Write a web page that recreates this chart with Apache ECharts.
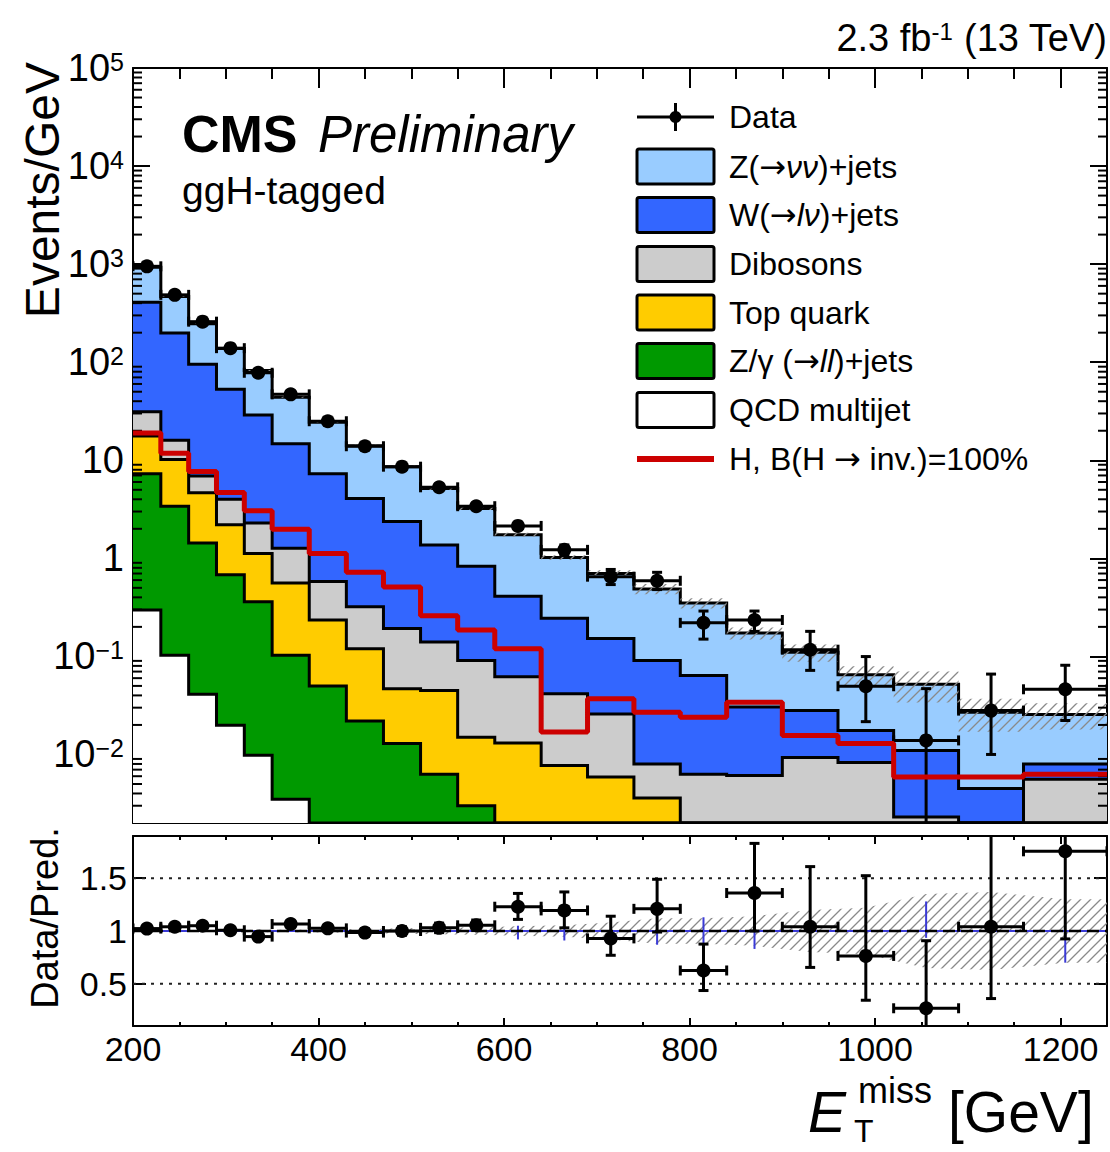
<!DOCTYPE html>
<html>
<head>
<meta charset="utf-8">
<title>CMS ggH-tagged MET</title>
<script src="https://cdn.jsdelivr.net/npm/echarts@6.0.0/dist/echarts.min.js"></script>
<style>
  html, body { margin: 0; padding: 0; background: #fff; }
  #main { width: 1110px; height: 1152px; }
</style>
</head>
<body>
<div id="main"></div>
<script>
// MET bins [GeV]
const binEdges = [200, 230, 260, 290, 320, 350, 390, 430, 470, 510, 550, 590, 640, 690, 740, 790, 840, 900, 960, 1020, 1090, 1160, 1250];

// background processes, events/GeV (stacked bottom -> top)
const qcdMultijet = [0.297, 0.103, 0.041, 0.0198, 0.0098, 0.0035, 0, 0, 0, 0, 0, 0, 0, 0, 0, 0, 0, 0, 0, 0, 0, 0];
const zllJets     = [7.0, 3.3, 1.39, 0.66, 0.35, 0.0995, 0.05, 0.022, 0.0129, 0.0063, 0.003, 0, 0, 0, 0, 0, 0, 0, 0, 0, 0, 0];
const topQuark    = [10.4, 6.8, 3.22, 1.52, 0.76, 0.457, 0.185, 0.098, 0.034, 0.0387, 0.012, 0.0131, 0.0077, 0.0059, 0.0036, 0, 0, 0, 0, 0, 0, 0];
const dibosons    = [13.6, 5.8, 2.25, 1.8, 1.17, 0.71, 0.345, 0.2, 0.146, 0.095, 0.076, 0.049, 0.034, 0.020, 0.0044, 0.0063, 0.0061, 0.0093, 0.0083, 0.0023, 0.001, 0.0056];
const wlnJets     = [378, 183, 88.6, 49, 26.7, 13.5, 6.72, 3.75, 2.18, 1.23, 0.74, 0.348, 0.203, 0.126, 0.083, 0.0577, 0.0244, 0.0187, 0.0093, 0.0087, 0.0035, 0.0024];
const znnJets     = [520, 268, 151.5, 85, 53.4, 29.2, 17.1, 10.0, 6.23, 3.78, 2.4, 1.33, 0.775, 0.548, 0.397, 0.286, 0.1425, 0.082, 0.0474, 0.041, 0.0225, 0.0176];

// signal H -> inv (not stacked)
const signalH = [19, 11.8, 7.7, 4.7, 3.06, 1.98, 1.12, 0.72, 0.51, 0.26, 0.186, 0.12, 0.0169, 0.037, 0.027, 0.024, 0.034, 0.0156, 0.0129, 0.0059, 0.0059, 0.0063];

// data, events/GeV
const dataVals  = [950, 486, 259, 139, 78, 47, 25, 13.9, 8.6, 5.3, 3.4, 2.14, 1.22, 0.65, 0.59, 0.22, 0.235, 0.117, 0.0496, 0.0139, 0.028, 0.0462];
const dataErrLo = [8, 5, 3, 2, 1.5, 0.9, 0.55, 0.35, 0.25, 0.17, 0.15, 0.15, 0.15, 0.11, 0.11, 0.07, 0.055, 0.045, 0.028, 0.0139, 0.018, 0.024];
const dataErrHi = [8, 5, 3, 2, 1.5, 0.9, 0.55, 0.35, 0.25, 0.17, 0.15, 0.15, 0.15, 0.12, 0.13, 0.07, 0.055, 0.063, 0.05, 0.033, 0.038, 0.035];

// ratio panel
const ratioVals  = [1.023, 1.04, 1.05, 1.007, 0.947, 1.066, 1.025, 0.985, 1.0, 1.03, 1.054, 1.23, 1.195, 0.93, 1.21, 0.626, 1.36, 1.04, 0.764, 0.268, 1.04, 1.755];
const ratioErrLo = [0.01, 0.012, 0.015, 0.017, 0.02, 0.025, 0.03, 0.035, 0.04, 0.045, 0.05, 0.12, 0.165, 0.16, 0.22, 0.19, 0.36, 0.385, 0.42, 0.27, 0.68, 0.83];
const ratioErrHi = [0.01, 0.012, 0.015, 0.017, 0.02, 0.025, 0.03, 0.035, 0.04, 0.045, 0.05, 0.126, 0.175, 0.21, 0.28, 0.25, 0.47, 0.57, 0.76, 0.64, 1.4, 1.3];
const sysUnc     = [0.01, 0.01, 0.01, 0.01, 0.012, 0.012, 0.015, 0.02, 0.025, 0.03, 0.035, 0.045, 0.055, 0.08, 0.12, 0.12, 0.14, 0.2, 0.22, 0.35, 0.37, 0.3];
const blueLo     = [null, null, null, null, null, null, null, null, null, null, null, 0.92, 0.91, null, 0.87, 0.875, 0.83, null, null, 0.935, null, 0.70];
const blueHi     = [null, null, null, null, null, null, null, null, null, null, null, 1.05, 1.03, null, 1.0, 1.13, 1.0, null, null, 1.28, null, 1.0];
const ratioTicks = [0.5, 1, 1.5];
const ratioRefLines = [0.5, 1.5];

const FONT = '"Liberation Sans", Arial, Helvetica, sans-serif';
const ARROW_FONT = '"DejaVu Sans", sans-serif';
const X_MIN = 200, X_MAX = 1250;
const Y_MIN = 0.002, Y_MAX = 1e5;
const R_MIN = 0.1, R_MAX = 1.9;
const nBins = binEdges.length - 1;
const binCenters = binEdges.slice(0, -1).map((e, i) => (e + binEdges[i + 1]) / 2);

const layers = [
  { vals: qcdMultijet, color: '#ffffff' },
  { vals: zllJets, color: '#009900' },
  { vals: topQuark, color: '#ffcc00' },
  { vals: dibosons, color: '#cccccc' },
  { vals: wlnJets, color: '#3366ff' },
  { vals: znnJets, color: '#99ccff' }
];
let running = new Array(nBins).fill(0);
layers.forEach(l => {
  running = running.map((s, i) => s + l.vals[i]);
  l.top = running.slice();
});
const totalPred = running;

function hatchCanvas() {
  const c = document.createElement('canvas');
  c.width = 10; c.height = 10;
  const g = c.getContext('2d');
  g.strokeStyle = '#8a8a8a';
  g.lineWidth = 1.3;
  g.beginPath();
  g.moveTo(0, 10); g.lineTo(10, 0);
  g.moveTo(-5, 5); g.lineTo(5, -5);
  g.moveTo(5, 15); g.lineTo(15, 5);
  g.stroke();
  return c;
}
const hatchFill = { image: hatchCanvas(), repeat: 'repeat', imageWidth: 10, imageHeight: 10 };

function seg(a, b, style) {
  return { type: 'line', shape: { x1: a[0], y1: a[1], x2: b[0], y2: b[1] }, style: style };
}

function stepOutline(api, tops, floor) {
  const pts = [];
  for (let i = 0; i < nBins; i++) {
    const v = Math.max(tops[i], floor);
    pts.push(api.coord([binEdges[i], v]), api.coord([binEdges[i + 1], v]));
  }
  return pts;
}

// data point with x/y error bars and end caps
function errorPoint(api, i, y, lo, hi, floor) {
  const ls = { stroke: '#000', lineWidth: 3 };
  const pC = api.coord([binCenters[i], y]);
  const pL = api.coord([binEdges[i], y]);
  const pR = api.coord([binEdges[i + 1], y]);
  const pHi = api.coord([binCenters[i], y + hi]);
  const loVal = y - lo;
  const pLo = api.coord([binCenters[i], loVal > floor ? loVal : floor]);
  const cap = 5;
  const kids = [
    seg(pL, pR, ls),
    seg([pC[0], pHi[1]], [pC[0], pLo[1]], ls),
    seg([pL[0], pL[1] - cap], [pL[0], pL[1] + cap], ls),
    seg([pR[0], pR[1] - cap], [pR[0], pR[1] + cap], ls),
    seg([pC[0] - cap, pHi[1]], [pC[0] + cap, pHi[1]], ls)
  ];
  if (loVal > floor) kids.push(seg([pC[0] - cap, pLo[1]], [pC[0] + cap, pLo[1]], ls));
  kids.push({ type: 'circle', shape: { cx: pC[0], cy: pC[1], r: 7 }, style: { fill: '#000' } });
  return { type: 'group', children: kids };
}

const logMinorTicks = [];
for (let e = -3; e < 5; e++) {
  for (let m = 2; m <= 9; m++) {
    const v = m * Math.pow(10, e);
    if (v > Y_MIN * 1.0001 && v < Y_MAX) logMinorTicks.push(v);
  }
}

function logLabel(v) {
  const lg = Math.log10(v);
  const e = Math.round(lg);
  if (Math.abs(lg - e) > 1e-6) return '';
  if (e === 0) return '1';
  if (e === 1) return '10';
  return '10{sup|' + (e < 0 ? '\u2212' + (-e) : e) + '}';
}

const lineStyle = { color: '#000', width: 2 };

function xAxis(grid, pos, labels, tickLen, minorLen) {
  return {
    type: 'value', gridIndex: grid, position: pos, min: X_MIN, max: X_MAX, interval: 200,
    axisLine: { show: true, onZero: false, lineStyle: lineStyle },
    axisTick: { show: true, inside: true, length: tickLen, lineStyle: lineStyle },
    minorTick: { show: true, splitNumber: 4, length: minorLen, lineStyle: lineStyle },
    splitLine: { show: false },
    axisLabel: { show: labels, color: '#000', fontFamily: FONT, fontSize: 34, margin: 6, showMaxLabel: false,
      formatter: v => String(v) }
  };
}

function logYAxis(pos, labels) {
  return {
    type: 'log', logBase: 10, gridIndex: 0, position: pos, min: Y_MIN, max: Y_MAX, splitNumber: 8,
    axisLine: { show: true, lineStyle: lineStyle },
    axisTick: { show: true, inside: true, length: 17, lineStyle: lineStyle },
    splitLine: { show: false },
    axisLabel: {
      show: labels, color: '#000', fontFamily: FONT, fontSize: 38, margin: 9, formatter: logLabel,
      rich: { sup: { fontSize: 25, fontFamily: FONT, color: '#000', lineHeight: 14, verticalAlign: 'top' } }
    }
  };
}

function ratioYAxis(pos, labels) {
  return {
    type: 'value', gridIndex: 1, position: pos, min: R_MIN, max: R_MAX,
    axisLine: { show: true, lineStyle: lineStyle },
    axisTick: { show: true, inside: true, length: 13, lineStyle: lineStyle, customValues: ratioTicks },
    splitLine: { show: false },
    axisLabel: { show: labels, color: '#000', fontFamily: FONT, fontSize: 34, margin: 6, customValues: ratioTicks }
  };
}

const chart = echarts.init(document.getElementById('main'), null, { renderer: 'svg' });

const txt = (x, y, text, size, extra) => ({
  type: 'text', x: x, y: y, silent: true, z: 100,
  style: Object.assign({ text: text, fill: '#000', fontFamily: FONT, fontSize: size, align: 'left', verticalAlign: 'middle' }, extra || {})
});

const legendRich = {
  it: { fontStyle: 'italic', fontSize: 32, fontFamily: FONT, fill: '#000' },
  ar: { fontSize: 32, fontFamily: ARROW_FONT, fill: '#000' }
};
const legendX = 637, legendW = 77, legendH = 35, legendTextX = 729;
const legendRows = [
  { kind: 'data', y: 117, label: 'Data' },
  { kind: 'box', y: 166.5, color: '#99ccff', label: 'Z({ar|\u2192}{it|\u03bd\u03bd})+jets' },
  { kind: 'box', y: 215, color: '#3366ff', label: 'W({ar|\u2192}{it|l\u03bd})+jets' },
  { kind: 'box', y: 264, color: '#cccccc', label: 'Dibosons' },
  { kind: 'box', y: 312.5, color: '#ffcc00', label: 'Top quark' },
  { kind: 'box', y: 361, color: '#009900', label: 'Z/\u03b3 ({ar|\u2192}{it|ll})+jets' },
  { kind: 'box', y: 410, color: '#ffffff', label: 'QCD multijet' },
  { kind: 'sig', y: 459, label: 'H, B(H {ar|\u2192} inv.)=100%' }
];
const graphics = [];
legendRows.forEach(r => {
  const cx = legendX + legendW / 2;
  if (r.kind === 'box') {
    graphics.push({ type: 'rect', z: 100, silent: true,
      shape: { x: legendX, y: r.y - legendH / 2, width: legendW, height: legendH, r: 2 },
      style: { fill: r.color, stroke: '#000', lineWidth: 3 } });
  } else if (r.kind === 'data') {
    const st = { stroke: '#000', lineWidth: 3 };
    graphics.push({ type: 'line', z: 100, silent: true, shape: { x1: legendX, y1: r.y, x2: legendX + legendW, y2: r.y }, style: st });
    graphics.push({ type: 'line', z: 100, silent: true, shape: { x1: cx, y1: r.y - 14, x2: cx, y2: r.y + 14 }, style: st });
    graphics.push({ type: 'circle', z: 100, silent: true, shape: { cx: cx, cy: r.y, r: 6 }, style: { fill: '#000' } });
  } else {
    graphics.push({ type: 'line', z: 100, silent: true, shape: { x1: legendX, y1: r.y, x2: legendX + legendW, y2: r.y }, style: { stroke: '#cc0000', lineWidth: 6 } });
  }
  graphics.push(txt(legendTextX, r.y, r.label, 32, { rich: legendRich }));
});

graphics.push(txt(182, 134, 'CMS', 52, { fontWeight: 'bold' }));
graphics.push(txt(318, 134, 'Preliminary', 51, { fontStyle: 'italic' }));
graphics.push(txt(182, 190, 'ggH-tagged', 39));
graphics.push(txt(1107, 38, '2.3 fb{sup|-1} (13 TeV)', 38, {
  align: 'right',
  rich: { sup: { fontSize: 24, fontFamily: FONT, fill: '#000', lineHeight: 14, verticalAlign: 'top' } }
}));
graphics.push(Object.assign(txt(42, 62, 'Events/GeV', 48, { align: 'right' }), { rotation: Math.PI / 2 }));
graphics.push(Object.assign(txt(45, 918, 'Data/Pred.', 38, { align: 'center' }), { rotation: Math.PI / 2 }));
graphics.push(txt(808, 1112, 'E', 57, { fontStyle: 'italic' }));
graphics.push(txt(858, 1090, 'miss', 36));
graphics.push(txt(854, 1131, 'T', 32));
graphics.push(txt(948, 1112, '[GeV]', 57));

const option = {
  backgroundColor: '#fff',
  animation: false,
  grid: [
    { left: 133, top: 68, width: 974, height: 755, containLabel: false },
    { left: 133, top: 836, width: 974, height: 190, containLabel: false }
  ],
  xAxis: [
    xAxis(0, 'bottom', false, 20, 11),
    xAxis(0, 'top', false, 20, 11),
    xAxis(1, 'bottom', true, 8, 4),
    xAxis(1, 'top', false, 8, 4)
  ],
  yAxis: [
    logYAxis('left', true),
    logYAxis('right', false),
    ratioYAxis('left', true),
    ratioYAxis('right', false)
  ],
  graphic: { elements: graphics },
  series: [
    // stacked backgrounds, tallest drawn first
    {
      type: 'custom', name: 'stack', xAxisIndex: 0, yAxisIndex: 0, clip: true, silent: true,
      data: layers.map(() => [X_MIN, 1]),
      renderItem: (params, api) => {
        const l = layers[layers.length - 1 - params.dataIndex];
        const outline = stepOutline(api, l.top, Y_MIN);
        const b0 = api.coord([X_MIN, Y_MIN]);
        const b1 = api.coord([X_MAX, Y_MIN]);
        return { type: 'group', children: [
          { type: 'polygon', shape: { points: [b0].concat(outline, [b1]) }, style: { fill: l.color } },
          { type: 'polyline', shape: { points: outline }, style: { stroke: '#000', lineWidth: 3, fill: null } }
        ] };
      }
    },
    // background uncertainty (hatched)
    {
      type: 'custom', name: 'unc', xAxisIndex: 0, yAxisIndex: 0, clip: true, silent: true,
      data: [[X_MIN, 1]],
      renderItem: (params, api) => {
        const up = [], dn = [];
        for (let i = 0; i < nBins; i++) {
          const hi = totalPred[i] * (1 + sysUnc[i]);
          const lo = totalPred[i] * (1 - sysUnc[i]);
          up.push(api.coord([binEdges[i], hi]), api.coord([binEdges[i + 1], hi]));
          dn.push(api.coord([binEdges[i], lo]), api.coord([binEdges[i + 1], lo]));
        }
        return { type: 'polygon', shape: { points: up.concat(dn.reverse()) }, style: { fill: hatchFill } };
      }
    },
    // signal
    {
      type: 'line', name: 'signal', xAxisIndex: 0, yAxisIndex: 0, step: 'end', symbol: 'none', silent: true,
      data: binEdges.slice(0, -1).map((e, i) => [e, signalH[i]]).concat([[X_MAX, signalH[nBins - 1]]]),
      lineStyle: { color: '#cc0000', width: 5 }
    },
    // data
    {
      type: 'custom', name: 'data', xAxisIndex: 0, yAxisIndex: 0, clip: true, silent: true,
      data: binCenters.map((c, i) => [c, dataVals[i]]),
      renderItem: (params, api) => {
        const i = params.dataIndex;
        return errorPoint(api, i, dataVals[i], dataErrLo[i], dataErrHi[i], Y_MIN * 0.3);
      }
    },
    // log minor ticks, both sides
    {
      type: 'custom', name: 'minorTicks', xAxisIndex: 0, yAxisIndex: 0, silent: true,
      data: logMinorTicks.map(v => [X_MIN, v]),
      renderItem: (params, api) => {
        const v = logMinorTicks[params.dataIndex];
        const a = api.coord([X_MIN, v]);
        const b = api.coord([X_MAX, v]);
        return { type: 'group', children: [
          seg(a, [a[0] + 9, a[1]], { stroke: '#000', lineWidth: 2 }),
          seg([b[0] - 9, b[1]], b, { stroke: '#000', lineWidth: 2 })
        ] };
      }
    },
    // ratio: dotted reference lines
    {
      type: 'custom', name: 'refLines', xAxisIndex: 2, yAxisIndex: 2, silent: true,
      data: ratioRefLines.map(v => [X_MIN, v]),
      renderItem: (params, api) => {
        const v = ratioRefLines[params.dataIndex];
        return seg(api.coord([X_MIN, v]), api.coord([X_MAX, v]), { stroke: '#222', lineWidth: 2, lineDash: [3, 6] });
      }
    },
    // ratio: hatched band
    {
      type: 'custom', name: 'ratioUnc', xAxisIndex: 2, yAxisIndex: 2, clip: true, silent: true,
      data: [[X_MIN, 1]],
      renderItem: (params, api) => {
        const up = [api.coord([X_MIN, 1 + sysUnc[0]])];
        const dn = [api.coord([X_MIN, 1 - sysUnc[0]])];
        binCenters.forEach((c, i) => {
          up.push(api.coord([c, 1 + sysUnc[i]]));
          dn.push(api.coord([c, 1 - sysUnc[i]]));
        });
        up.push(api.coord([X_MAX, 1 + sysUnc[nBins - 1]]));
        dn.push(api.coord([X_MAX, 1 - sysUnc[nBins - 1]]));
        return { type: 'polygon', shape: { points: up.concat(dn.reverse()) }, style: { fill: hatchFill } };
      }
    },
    // ratio: blue line at 1 and blue bars
    {
      type: 'custom', name: 'blue', xAxisIndex: 2, yAxisIndex: 2, clip: true, silent: true,
      data: [[X_MIN, 1]],
      renderItem: (params, api) => {
        const st = { stroke: '#3b3bd6', lineWidth: 2 };
        const kids = [seg(api.coord([X_MIN, 1]), api.coord([X_MAX, 1]), st)];
        for (let i = 0; i < nBins; i++) {
          if (blueLo[i] == null) continue;
          kids.push(seg(api.coord([binCenters[i], blueLo[i]]), api.coord([binCenters[i], blueHi[i]]), st));
        }
        kids.push(seg(api.coord([X_MIN, 1]), api.coord([X_MAX, 1]), { stroke: '#000', lineWidth: 2.5, lineDash: [12, 6] }));
        return { type: 'group', children: kids };
      }
    },
    // ratio: data / prediction
    {
      type: 'custom', name: 'ratio', xAxisIndex: 2, yAxisIndex: 2, clip: true, silent: true,
      data: binCenters.map((c, i) => [c, ratioVals[i]]),
      renderItem: (params, api) => {
        const i = params.dataIndex;
        return errorPoint(api, i, ratioVals[i], ratioErrLo[i], ratioErrHi[i], R_MIN - 0.2);
      }
    }
  ]
};

chart.setOption(option);
</script>
</body>
</html>
